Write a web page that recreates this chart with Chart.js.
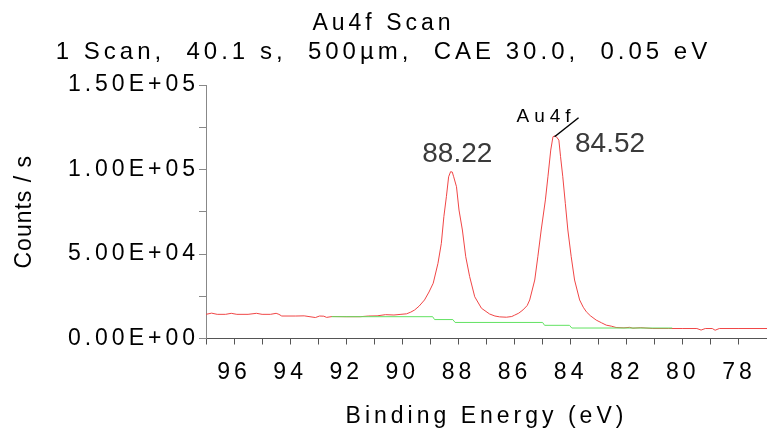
<!DOCTYPE html>
<html>
<head>
<meta charset="utf-8">
<script src="https://cdn.jsdelivr.net/npm/chart.js@4/dist/chart.umd.min.js"></script>
<style>
  body { margin: 0; background: #fff; }
  #wrap { width: 767px; height: 432px; }
</style>
</head>
<body>
<div id="wrap"><canvas id="myChart" width="767" height="432"></canvas></div>
<script>
// Au4f survey (eV, counts/s)
const scanEnergy = [97.0, 96.8, 96.6, 96.3, 96.1, 95.9, 95.5, 95.2, 95.0, 94.7, 94.5, 94.4, 94.3, 93.8, 93.5, 93.1, 92.95, 92.8, 92.7, 92.5,
  92.0, 91.5, 91.2, 90.9, 90.6, 90.3, 90.05, 89.85, 89.7, 89.56, 89.4, 89.21, 89.05, 88.9, 88.73, 88.61, 88.52, 88.43, 88.35, 88.28,
  88.22, 88.17, 88.07, 87.98, 87.86, 87.74, 87.6, 87.42, 87.18, 86.89, 86.7, 86.53, 86.29, 86.1, 86.0, 85.85, 85.7, 85.55, 85.46, 85.28,
  85.17, 85.05, 84.9, 84.81, 84.71, 84.63, 84.55, 84.51, 84.42, 84.36, 84.28, 84.19, 84.1, 83.98, 83.86, 83.68, 83.55, 83.44, 83.3, 83.09,
  82.9, 82.73, 82.55, 82.38, 82.1, 81.9, 81.78, 81.5, 81.07, 80.5, 80.0, 79.5, 79.35, 79.2, 78.95, 78.85, 78.7, 78.0, 77.0];
const scanCounts = [14300, 15000, 14300, 14300, 14900, 14300, 14300, 14900, 14300, 14300, 14900, 14300, 13300, 13300, 13400, 12400, 13300, 13200, 12500, 13000,
  12900, 12900, 13300, 13400, 14100, 13900, 14300, 14600, 15600, 16900, 19200, 22800, 27500, 32700, 44500, 56300, 72100, 83900, 95700, 98700,
  98500, 95700, 89800, 76000, 64200, 48400, 36600, 24700, 17900, 14500, 13300, 12800, 12600, 13000, 13800, 15000, 16900, 19500, 22800, 34600,
  48400, 64200, 82000, 95700, 111500, 119400, 120000, 119400, 117400, 107600, 95700, 80000, 64200, 48400, 34600, 22800, 18500, 15800, 13500, 10900,
  9300, 7900, 7300, 6500, 6300, 6600, 6100, 6400, 5900, 5900, 5900, 5900, 5000, 5900, 5900, 4900, 5900, 5900, 5900];

// background (green)
const bgEnergy = [92.52, 88.92, 88.85, 88.2, 88.12, 85.0, 84.93, 84.04, 83.96, 80.38];
const bgCounts = [12900, 12900, 11200, 11200, 9500, 9500, 7800, 7800, 6200, 6200];

// peak marks
const peakLabels = ['88.22', '84.52'];
const peakEnergy = [88.22, 84.52];
const peakCounts = [98700, 119400];
const peakName = 'Au4f';

const titleLines = ['Au4f Scan', '1 Scan,  40.1 s,  500µm,  CAE 30.0,  0.05 eV'];
const xLabel = 'Binding Energy (eV)';
const yLabel = 'Counts / s';

const FONT = '"Liberation Sans", Arial, sans-serif';

function toPoints(xs, ys) {
  return xs.map((v, i) => ({ x: v, y: ys[i] }));
}

function sci(v) {
  const parts = v.toExponential(2).toUpperCase().split('E');
  const e = parseInt(parts[1], 10);
  return parts[0] + 'E' + (e < 0 ? '-' : '+') + String(Math.abs(e)).padStart(2, '0');
}

// stretched look of the original text
const spacing = {
  id: 'spacing',
  beforeUpdate(chart) { chart.ctx.letterSpacing = '4px'; },
  beforeDraw(chart) {
    chart.ctx.letterSpacing = '4px';
    const ys = chart.scales.y;
    if (!ys._tight) {
      const base = ys.drawTitle;
      ys.drawTitle = function () {
        this.ctx.save();
        this.ctx.letterSpacing = '1px';
        base.call(this);
        this.ctx.restore();
      };
      ys._tight = true;
    }
  }
};

const peakText = {
  id: 'peakText',
  afterDatasetsDraw(chart) {
    const { ctx, scales: { x, y } } = chart;
    ctx.save();
    ctx.letterSpacing = '0px';
    ctx.font = '28px ' + FONT;
    ctx.fillStyle = '#3a3a3a';
    ctx.textAlign = 'center';
    ctx.textBaseline = 'alphabetic';
    const dx = [5, 54], dy = [-10, 15];
    peakEnergy.forEach((e, i) => {
      ctx.fillText(peakLabels[i], x.getPixelForValue(e) + dx[i], y.getPixelForValue(peakCounts[i]) + dy[i]);
    });
    // leader + name on the big peak
    const sx = x.getPixelForValue(peakEnergy[1]) - 1.5;
    const sy = y.getPixelForValue(peakCounts[1]);
    ctx.strokeStyle = '#000';
    ctx.lineWidth = 1.5;
    ctx.beginPath();
    ctx.moveTo(sx, sy);
    ctx.lineTo(sx + 24, sy - 19);
    ctx.stroke();
    ctx.letterSpacing = '5px';
    ctx.font = '19px ' + FONT;
    ctx.fillStyle = '#000';
    ctx.textAlign = 'left';
    ctx.fillText(peakName, sx - 38, sy - 15);
    ctx.restore();
  }
};

new Chart(document.getElementById('myChart'), {
  type: 'line',
  data: {
    datasets: [
      { data: toPoints(bgEnergy, bgCounts), borderColor: '#62e262', borderWidth: 1, pointRadius: 0 },
      { data: toPoints(scanEnergy, scanCounts), borderColor: '#f04646', borderWidth: 1, pointRadius: 0 }
    ]
  },
  options: {
    responsive: false,
    animation: false,
    devicePixelRatio: 1,
    layout: { padding: 0 },
    plugins: {
      legend: { display: false },
      tooltip: { enabled: false },
      title: {
        display: true, text: titleLines[0], color: '#000',
        font: { family: FONT, size: 23, weight: 'normal', lineHeight: 1.2 },
        padding: { top: 10, bottom: 0 }
      },
      subtitle: {
        display: true, text: titleLines[1], color: '#000',
        font: { family: FONT, size: 24, weight: 'normal', lineHeight: 1.2 },
        padding: { top: 0, bottom: 18.6 }
      }
    },
    scales: {
      x: {
        type: 'linear', reverse: true, min: 77, max: 97,
        afterFit(s) { s.height = 93.5; s.paddingLeft = 0; s.paddingRight = 0; },
        border: { color: '#555', width: 1 },
        grid: { drawOnChartArea: false, drawTicks: true, tickLength: 6, tickColor: '#555' },
        ticks: {
          stepSize: 1, autoSkip: false, maxRotation: 0, padding: 14, color: '#000',
          font: { family: FONT, size: 23 },
          callback: v => (v % 2 === 0 ? String(v) : '')
        },
        title: {
          display: true, text: xLabel, color: '#000',
          font: { family: FONT, size: 23 }, padding: { top: 0, bottom: 2 }
        }
      },
      y: {
        min: 0, max: 150000,
        afterFit(s) { s.width = 206; },
        border: { color: '#888', width: 1 },
        grid: { drawOnChartArea: false, drawTicks: true, tickLength: 7, tickColor: '#888' },
        ticks: {
          stepSize: 25000, autoSkip: false, padding: 0, color: '#000',
          font: { family: FONT, size: 23 },
          callback: v => (v % 50000 === 0 ? sci(v) : '')
        },
        title: {
          display: true, text: yLabel, color: '#000',
          font: { family: FONT, size: 23 }, padding: { top: 11, bottom: 0 }
        }
      }
    }
  },
  plugins: [spacing, peakText]
});
</script>
</body>
</html>
